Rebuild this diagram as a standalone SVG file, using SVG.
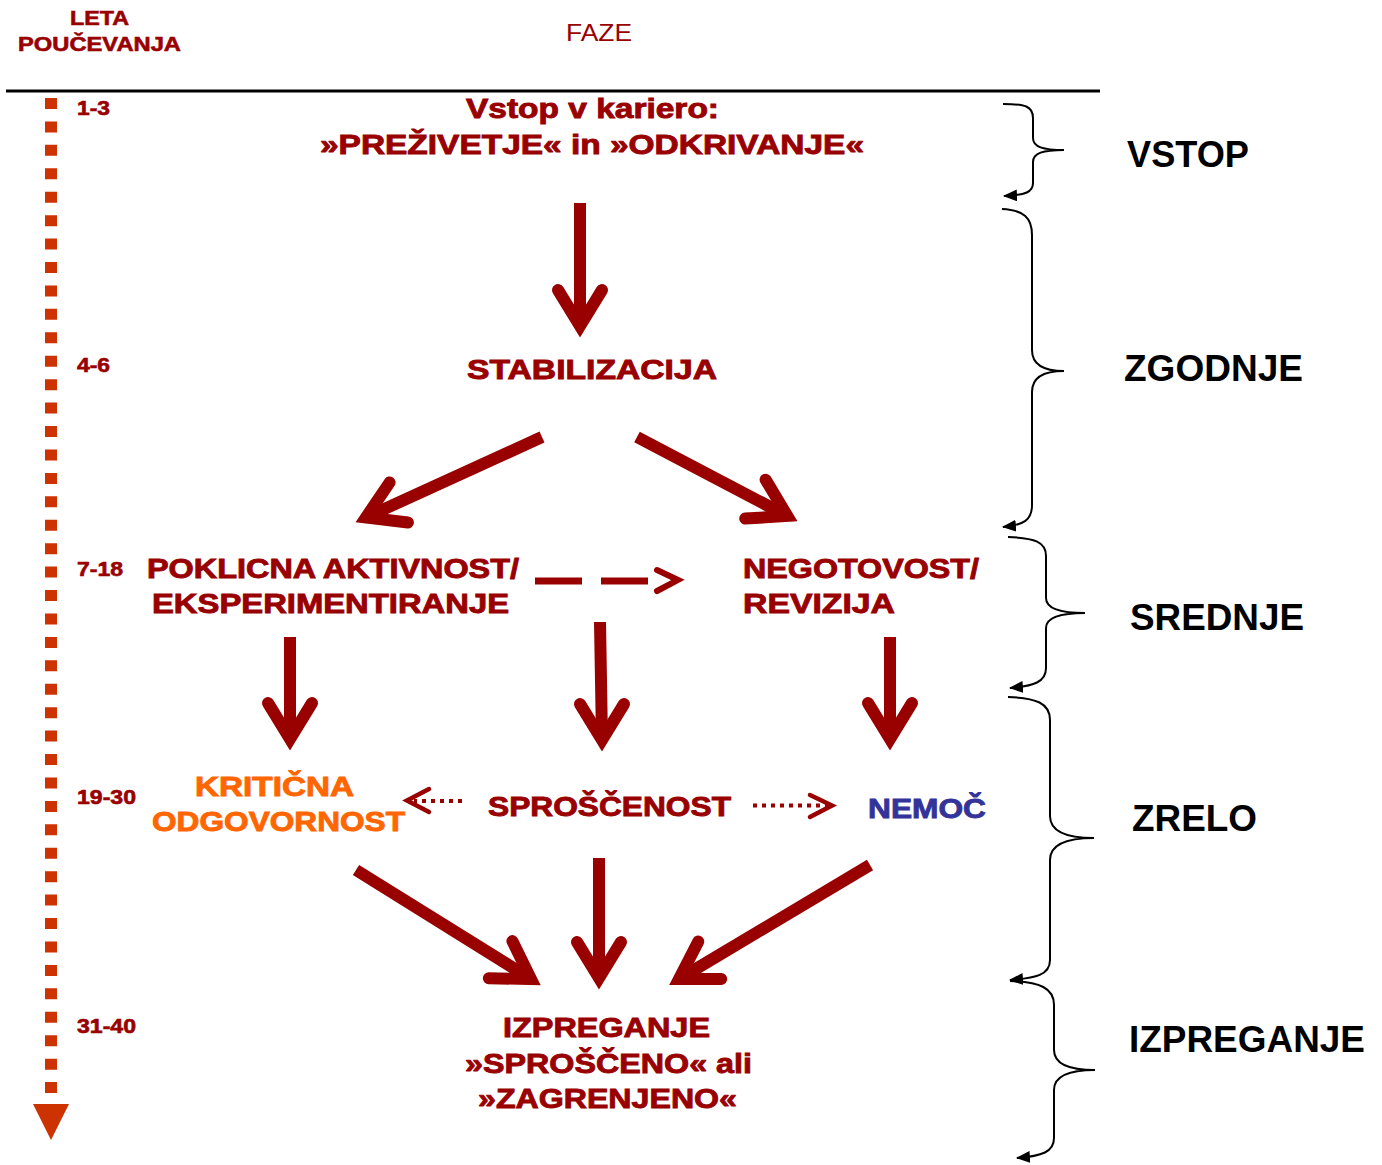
<svg xmlns="http://www.w3.org/2000/svg" width="1382" height="1165" viewBox="0 0 1382 1165">
<defs>
<style>
.t{font-family:"Liberation Sans",Arial,sans-serif;font-weight:bold;font-size:28px;fill:#990000;stroke:#990000;stroke-width:0.9;}
.yr{font-family:"Liberation Sans",Arial,sans-serif;font-weight:bold;font-size:20px;fill:#990000;stroke:#990000;stroke-width:0.6;}
.ph{font-family:"Liberation Sans",Arial,sans-serif;font-weight:bold;font-size:36px;fill:#000000;}
.big{stroke:#990000;stroke-width:12;fill:none;stroke-linecap:butt;}
.head{stroke:#990000;stroke-width:12;fill:none;stroke-linecap:round;stroke-linejoin:miter;stroke-miterlimit:10;}
.brace{stroke:#000;stroke-width:2;fill:none;marker-end:url(#ah);}
.dot{stroke:#990000;stroke-width:4;fill:none;stroke-dasharray:4 5;}
.chev{stroke:#990000;stroke-width:4.5;fill:none;stroke-linecap:round;stroke-linejoin:miter;}
</style>
<marker id="ah" markerWidth="14" markerHeight="12" refX="13" refY="6" orient="auto" markerUnits="userSpaceOnUse">
<path d="M0,0 L14,6 L0,12 Z" fill="#000"/>
</marker>
</defs>
<rect width="1382" height="1165" fill="#fff"/>

<g id="header">
<text class="yr" x="70" y="25" textLength="59" lengthAdjust="spacingAndGlyphs">LETA</text>
<text class="yr" x="18" y="51" textLength="163" lengthAdjust="spacingAndGlyphs">POUČEVANJA</text>
<text x="566" y="41" font-family="Liberation Sans, Arial, sans-serif" font-size="24" fill="#990000" textLength="66" lengthAdjust="spacingAndGlyphs">FAZE</text>
<line x1="6" y1="91" x2="1100" y2="91" stroke="#000" stroke-width="3"/>
</g>

<g id="timeline">
<line x1="51" y1="98" x2="51" y2="1094" stroke="#CC3300" stroke-width="12" stroke-dasharray="11 12.43"/>
<polygon points="33,1104 69,1104 51,1140" fill="#CC3300"/>
<text class="yr" x="77" y="115" textLength="33" lengthAdjust="spacingAndGlyphs">1-3</text>
<text class="yr" x="77" y="372" textLength="33" lengthAdjust="spacingAndGlyphs">4-6</text>
<text class="yr" x="77" y="576" textLength="46" lengthAdjust="spacingAndGlyphs">7-18</text>
<text class="yr" x="77" y="804" textLength="59" lengthAdjust="spacingAndGlyphs">19-30</text>
<text class="yr" x="77" y="1033" textLength="59" lengthAdjust="spacingAndGlyphs">31-40</text>
</g>

<g id="vstop">
<text class="t" x="466" y="118" textLength="253" lengthAdjust="spacingAndGlyphs">Vstop v kariero:</text>
<text class="t" x="320" y="154" textLength="544" lengthAdjust="spacingAndGlyphs">»PREŽIVETJE« in »ODKRIVANJE«</text>
</g>
<g id="stabilizacija">
<text class="t" x="467" y="379" textLength="250" lengthAdjust="spacingAndGlyphs">STABILIZACIJA</text>
</g>
<g id="poklicna">
<text class="t" x="147" y="578" textLength="372" lengthAdjust="spacingAndGlyphs">POKLICNA AKTIVNOST/</text>
<text class="t" x="152" y="613" textLength="357" lengthAdjust="spacingAndGlyphs">EKSPERIMENTIRANJE</text>
</g>
<g id="negotovost">
<text class="t" x="743" y="578" textLength="236" lengthAdjust="spacingAndGlyphs">NEGOTOVOST/</text>
<text class="t" x="743" y="613" textLength="152" lengthAdjust="spacingAndGlyphs">REVIZIJA</text>
</g>
<g id="kriticna">
<text class="t" x="195" y="796" textLength="159" lengthAdjust="spacingAndGlyphs" style="fill:#FF6600;stroke:#FF6600">KRITIČNA</text>
<text class="t" x="152" y="831" textLength="253" lengthAdjust="spacingAndGlyphs" style="fill:#FF6600;stroke:#FF6600">ODGOVORNOST</text>
</g>
<g id="sproscenost">
<text class="t" x="488" y="816" textLength="243" lengthAdjust="spacingAndGlyphs">SPROŠČENOST</text>
</g>
<g id="nemoc">
<text class="t" x="868" y="818" textLength="118" lengthAdjust="spacingAndGlyphs" style="fill:#333399;stroke:#333399">NEMOČ</text>
</g>
<g id="izpreganje">
<text class="t" x="503" y="1037" textLength="207" lengthAdjust="spacingAndGlyphs">IZPREGANJE</text>
<text class="t" x="465" y="1073" textLength="287" lengthAdjust="spacingAndGlyphs">»SPROŠČENO« ali</text>
<text class="t" x="478" y="1108" textLength="259" lengthAdjust="spacingAndGlyphs">»ZAGRENJENO«</text>
</g>

<g id="phases">
<text class="ph" x="1127" y="167" textLength="122" lengthAdjust="spacingAndGlyphs">VSTOP</text>
<text class="ph" x="1124" y="381" textLength="179" lengthAdjust="spacingAndGlyphs">ZGODNJE</text>
<text class="ph" x="1130" y="630" textLength="174" lengthAdjust="spacingAndGlyphs">SREDNJE</text>
<text class="ph" x="1132" y="831" textLength="125" lengthAdjust="spacingAndGlyphs">ZRELO</text>
<text class="ph" x="1129" y="1052" textLength="236" lengthAdjust="spacingAndGlyphs">IZPREGANJE</text>
</g>

<g id="connectors">
<line class="big" x1="580" y1="203" x2="580" y2="326"/>
<polyline class="head" points="558,290 580,326 602,290"/>
<line class="big" x1="542" y1="437" x2="366" y2="517.4"/>
<polyline class="head" points="389.6,482.5 366,517.4 407.9,522.5"/>
<line class="big" x1="637" y1="437" x2="787.3" y2="515.9"/>
<polyline class="head" points="765.6,479.7 787.3,515.9 745.2,518.6"/>
<line class="big" x1="290" y1="637" x2="290" y2="739"/>
<polyline class="head" points="268,703 290,739 312,703"/>
<line class="big" x1="600" y1="622" x2="602" y2="740"/>
<polyline class="head" points="580,704 602,740 624,704"/>
<line class="big" x1="890" y1="637" x2="890" y2="739"/>
<polyline class="head" points="868,703 890,739 912,703"/>
<line class="big" x1="356" y1="870" x2="531" y2="979"/>
<polyline class="head" points="512.4,941.1 531,979 488.8,978.3"/>
<line class="big" x1="599" y1="858" x2="599" y2="978"/>
<polyline class="head" points="577,942 599,978 621,942"/>
<line class="big" x1="870" y1="865" x2="679" y2="979"/>
<polyline class="head" points="698.3,941.5 679,979 721.2,979.1"/>

<line x1="535" y1="581" x2="582" y2="581" stroke="#990000" stroke-width="7"/>
<line x1="601" y1="581" x2="648" y2="581" stroke="#990000" stroke-width="7"/>
<polyline points="657,570 678,580 657,591" stroke="#990000" stroke-width="6" fill="none" stroke-linecap="round" stroke-linejoin="miter"/>

<line class="dot" x1="462" y1="801" x2="414" y2="801"/>
<polyline class="chev" points="429,789 407,800.5 429,812"/>
<line class="dot" x1="753" y1="805.5" x2="828" y2="805.5"/>
<polyline class="chev" points="810,795 832,805.5 810,817"/>

<path class="brace" d="M1003,104 C1025,104 1033,106 1033,118 L1033,138 C1033,147 1043,150 1064,150 C1043,150 1033,153 1033,162 L1033,183 C1033,192 1026,195 1004,196"/>
<path class="brace" d="M1002,209 C1024,210 1032,218 1032,235 L1032,350 C1032,364 1043,371 1064,371 C1043,371 1032,378 1032,392 L1032,505 C1032,520 1024,525 1003,527"/>
<path class="brace" d="M1008,537 C1035,538 1046,542 1046,556 L1046,598 C1046,608 1060,613 1085,613 C1060,613 1046,618 1046,628 L1046,668 C1046,682 1034,686 1010,688"/>
<path class="brace" d="M1008,697 C1036,698 1050,703 1050,720 L1050,816 C1050,831 1066,838 1094,838 C1066,838 1050,845 1050,860 L1050,960 C1050,975 1036,978 1010,980"/>
<path class="brace" d="M1010,981 C1040,982 1054,988 1054,1005 L1054,1050 C1054,1064 1068,1070 1095,1070 C1068,1070 1054,1076 1054,1090 L1054,1138 C1054,1152 1042,1156 1017,1158"/>
</g>
</svg>
